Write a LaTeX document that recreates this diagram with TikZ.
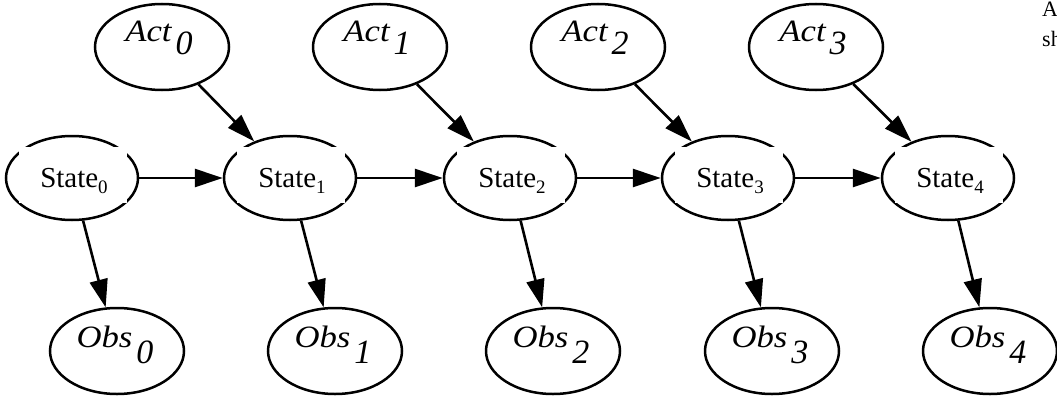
\documentclass[tikz,border=0pt]{standalone}
\usepackage{fontspec}
\usepackage{graphicx}
\setmainfont{Liberation Serif}
\usetikzlibrary{arrows.meta,shapes.geometric}

% italic label with a large, lowered italic index
\newcommand{\biglab}[3]{\scalebox{1.12}[1]{\itshape #1}\hspace{4pt}\raisebox{#3}{\fontsize{34}{34}\selectfont\itshape #2}}
\newcommand{\statelab}[1]{State\raisebox{-6pt}{\fontsize{19}{19}\selectfont #1}}

\begin{document}
\begin{tikzpicture}[x=1pt,y=-1pt,
  ell/.style={ellipse, draw, line width=2.5pt, inner sep=0pt,
    minimum width=134pt, minimum height=86pt},
  statenode/.style={ell, minimum width=132pt, minimum height=84pt},
  lab/.style={inner sep=0pt, anchor=base, font=\fontsize{31}{31}\selectfont},
  statetext/.style={inner sep=0pt, anchor=base, font=\fontsize{29}{29}\selectfont},
  patch/.style={fill=white},
  arr/.style={line width=2.6pt, -{Triangle[length=28pt,width=18pt]}},
  sidetext/.style={inner sep=0pt, anchor=base west,
    font=\fontsize{22}{22}\selectfont}
]
\useasboundingbox (0,0) rectangle (1057,396);
\clip (0,0) rectangle (1057,396);

% action nodes
\foreach \i/\x in {0/162,1/380,2/598,3/816}{
  \node[ell] (a\i) at (\x,47) {};
  \node[lab] (a\i t) at (\x-3,42) {\biglab{Act}{\i}{-13pt}};
}

% observation nodes
\foreach \i/\x in {0/117,1/335,2/553,3/772,4/990}{
  \node[ell] (o\i) at (\x,351) {};
  \node[lab] (o\i t) at (\x-2,347) {\biglab{Obs}{\i}{-16pt}};
}

% state nodes: outline, white label patch, then the label on top
\foreach \i/\x in {0/72,1/290,2/510,3/728,4/948}{
  \node[statenode] (s\i) at (\x,178) {};
  \fill[patch] (\x-53,147) rectangle (\x+55,203);
  \node[statetext] (s\i t) at (\x+2,187) {\statelab{\i}};
}

% transitions
\foreach \i/\j in {0/1,1/2,2/3,3/4}{
  \draw[arr] (s\i) -- (s\j);
  \draw[arr] (a\i) -- (s\j);
}
% observations
\foreach \i in {0,...,4}
  \draw[arr] (s\i) -- (o\i);

% running text at the right edge
\node[sidetext] (txa) at (1042,17) {A};
\node[sidetext] (txb) at (1042,47) {sh};
\end{tikzpicture}
\end{document}
